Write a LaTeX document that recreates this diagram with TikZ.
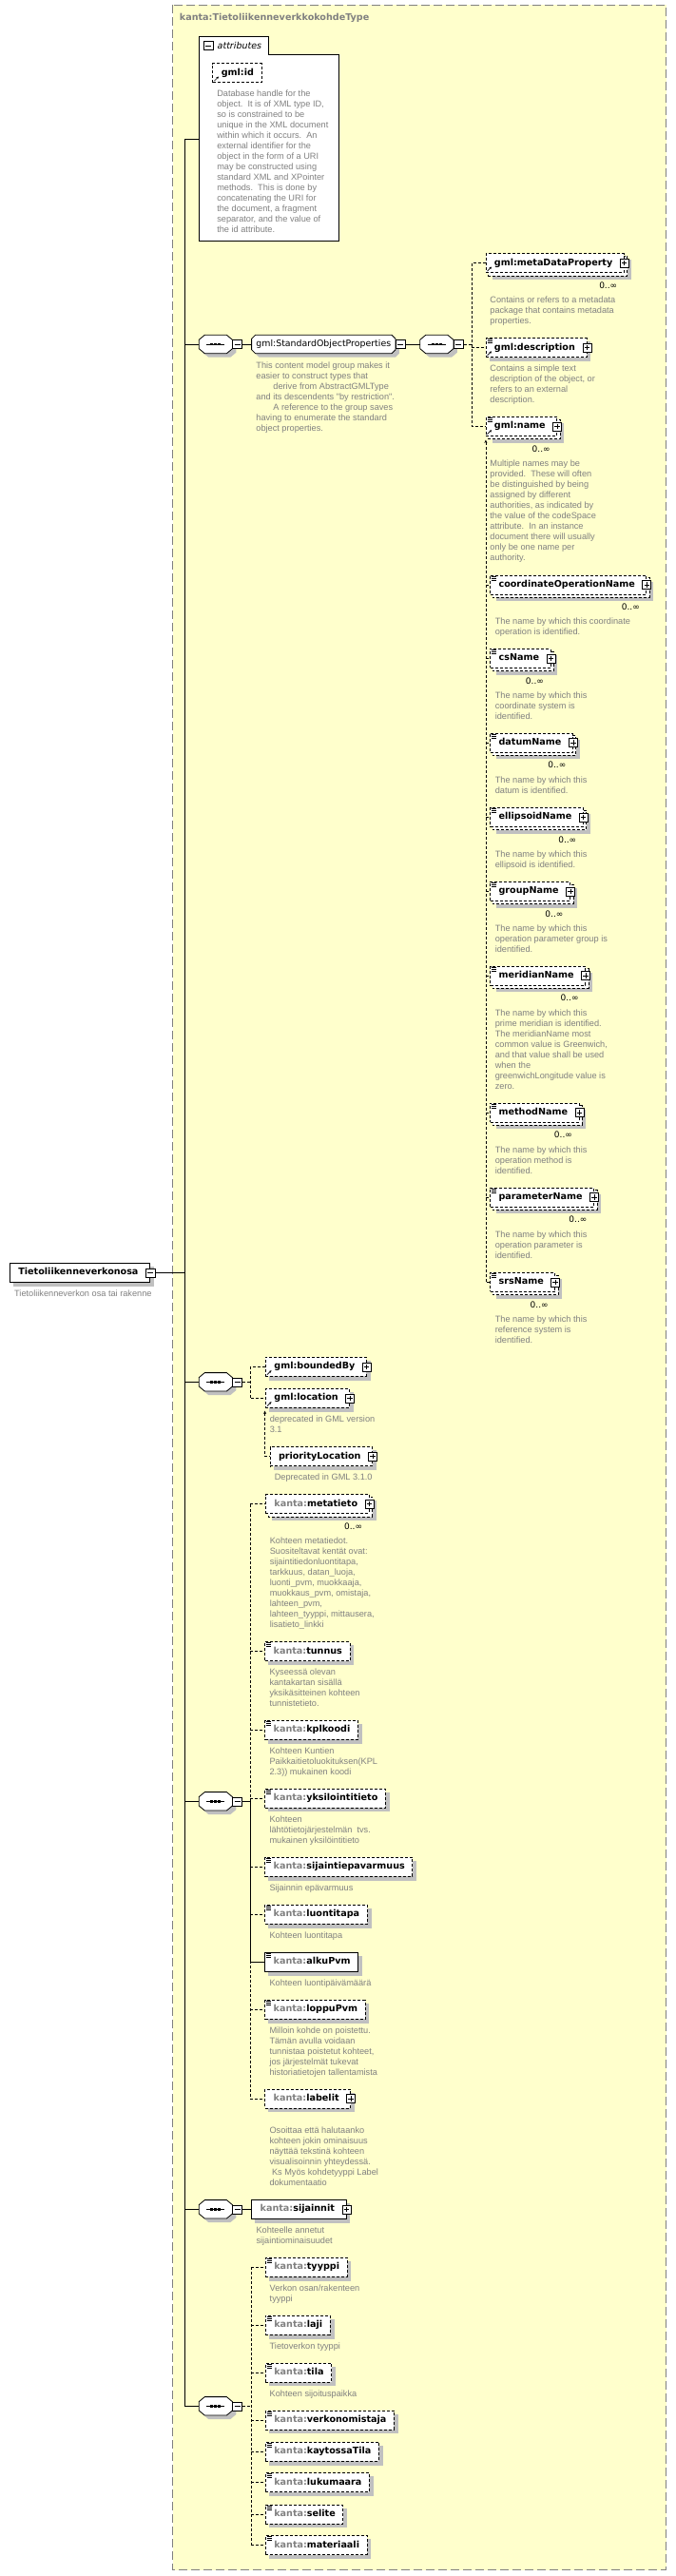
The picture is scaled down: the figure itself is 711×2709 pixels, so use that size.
\documentclass[tikz,border=0pt]{standalone}
\usepackage{fontspec}
\setmainfont{DejaVu Sans}
\newfontfamily\descfont{Liberation Sans}
\usetikzlibrary{arrows.meta}
\pgfdeclarelayer{bg}
\pgfdeclarelayer{mid}
\pgfsetlayers{bg,mid,main}
\definecolor{bgyellow}{RGB}{255,255,204}
\definecolor{shgray}{RGB}{192,192,192}
\definecolor{txtgray}{RGB}{128,128,128}
\newcommand{\kp}{\textcolor{txtgray}{kanta:}}
\newcommand{\Elm}[5][]{\node[el,#1] (#2) at (#3) {\kern9pt#4\kern#5pt};}
\newcommand{\shd}[1]{\begin{pgfonlayer}{mid}\fill[shgray, transform canvas={xshift=4pt,yshift=-4pt}] (#1.north west) rectangle (#1.south east);\end{pgfonlayer}}
\newcommand{\mshd}[1]{\begin{pgfonlayer}{mid}\fill[shgray, transform canvas={xshift=7pt,yshift=-7pt}] (#1.north west) rectangle (#1.south east);\draw[fill=white, line width=0.8pt, dash pattern=on 3pt off 2pt, transform canvas={xshift=3pt,yshift=-3pt}] (#1.north west) rectangle (#1.south east);\end{pgfonlayer}}
\newcommand{\pbx}[1]{\node[pbox] (#1-p) at (#1.east) {};}
\newcommand{\eqi}[1]{\foreach \d in {1.3,3.3,5.3}{\draw[line width=0.6pt] ([xshift=2pt,yshift=-\d pt]#1.north west) -- ([xshift=7pt,yshift=-\d pt]#1.north west);}}
\newcommand{\refa}[1]{\draw[line width=0.7pt,-{Stealth[length=2.6pt,width=2.6pt]}] ([xshift=2pt,yshift=2pt]#1.south west) -- ([xshift=6.5pt,yshift=6.5pt]#1.south west);}
\newcommand{\mlt}[1]{\node[mult] (#1-n) at ([xshift=-17pt,yshift=-23.7pt]#1.east) {0..∞};}
\newcommand{\octo}[3]{([xshift=#2]#1.north west) -- ([xshift=-#2]#1.north east) -- ([yshift=-#3]#1.north east) -- ([yshift=#3]#1.south east) -- ([xshift=-#2]#1.south east) -- ([xshift=#2]#1.south west) -- ([yshift=#3]#1.south west) -- ([yshift=-#3]#1.north west) -- cycle}
\newcommand{\seqb}[3]{%
 \node[inner sep=0pt, minimum width=34.7pt, minimum height=19pt, anchor=west] (#1) at (#2,#3) {};
 \begin{pgfonlayer}{mid}
 \fill[shgray, transform canvas={xshift=4pt,yshift=-4pt}] \octo{#1}{6pt}{5pt};
 \draw[fill=white, line width=0.8pt] \octo{#1}{6pt}{5pt};
 \end{pgfonlayer}
 \draw[line width=0.8pt] ([xshift=8pt]#1.west) -- ([xshift=-8pt]#1.east);
 \foreach \dx in {-4,0,4} {\fill ([xshift=\dx pt]#1.center) +(-1.4pt,-1.2pt) rectangle +(1.4pt,1.2pt);}
 \node[mbox, anchor=west] (#1-m) at (#1.east) {};
}
\begin{document}
\begin{tikzpicture}[x=1pt,y=-1pt,line width=0.8pt,
 el/.style={draw=black, fill=white, anchor=west, minimum height=20pt, inner sep=0pt, text height=7.2pt, text depth=2pt, line width=0.8pt, font=\fontsize{9.6}{11}\selectfont\bfseries},
 opt/.style={dash pattern=on 3pt off 2pt},
 desc/.style={anchor=north west, inner sep=0pt, align=left, text=txtgray, font=\descfont\fontsize{9.2}{11}\selectfont},
 mult/.style={inner sep=0pt, font=\fontsize{9}{11}\selectfont},
 pbox/.style={draw=black, fill=white, solid, line width=0.6pt, minimum width=9pt, minimum height=9pt, inner sep=0pt, path picture={\draw[line width=0.6pt] ([xshift=1.8pt]path picture bounding box.west) -- ([xshift=-1.8pt]path picture bounding box.east); \draw[line width=0.6pt] ([yshift=-1.8pt]path picture bounding box.north) -- ([yshift=1.8pt]path picture bounding box.south);}},
 mbox/.style={draw=black, fill=white, solid, line width=0.6pt, minimum width=10pt, minimum height=9pt, inner sep=0pt, path picture={\draw[line width=0.6pt] ([xshift=1.8pt]path picture bounding box.west) -- ([xshift=-1.8pt]path picture bounding box.east);}},
 conn/.style={line width=0.8pt},
 dconn/.style={line width=0.8pt, dash pattern=on 3pt off 2pt},
]
\useasboundingbox (0,0) rectangle (711,2709);
\begin{pgfonlayer}{bg}
\draw[draw=txtgray, fill=bgyellow, line width=0.8pt, dash pattern=on 9pt off 4pt] (181.5,5.3) rectangle (700.5,2702.7);
\end{pgfonlayer}
\node[anchor=west, inner sep=0pt, text=txtgray, font=\fontsize{9.6}{11}\selectfont\bfseries] (title) at (188.7,19) {kanta:TietoliikenneverkkokohdeType};

% attributes
\node[inner sep=0pt, minimum width=146.5pt, minimum height=196pt, anchor=north west] (attr) at (209.4,57.3) {};
\draw[fill=white, line width=0.8pt] (209.4,38.3) -- (282.5,38.3) -- (282.5,57.3) -- (355.9,57.3) -- (355.9,253.3) -- (209.4,253.3) -- cycle;
\node[mbox, minimum width=9.5pt] (attr-m) at (219.2,48) {};
\node[anchor=west, inner sep=0pt, font=\itshape\fontsize{9.5}{11}\selectfont] (attrlbl) at (228.5,47.6) {attributes};
\Elm[opt]{gid}{223.4,76.7}{gml:id}{8} \shd{gid} \refa{gid}
\node[desc] (gid-d) at (228.1,94.7) {Database handle for the\\object.\ \ It is of XML type ID,\\so is constrained to be\\unique in the XML document\\within which it occurs.\ \ An\\external identifier for the\\object in the form of a URI\\may be constructed using\\standard XML and XPointer\\methods.\ \ This is done by\\concatenating the URI for\\the document, a fragment\\separator, and the value of\\the id attribute.};

% root
\Elm{root}{10,1338.3}{Tietoliikenneverkonosa}{12} \shd{root}
\node[mbox] (root-m) at (root.east) {};
\node[desc] (root-d) at (15,1356.7) {Tietoliikenneverkon osa tai rakenne};

% sequence 1 and group
\seqb{s1}{209.3}{362}
\node[anchor=west, inner xsep=4.6pt, inner ysep=0pt, minimum height=19pt, text height=7pt, text depth=2pt, font=\fontsize{9.4}{11}\selectfont] (grp) at (264.6,362) {gml:StandardObjectProperties};
\begin{pgfonlayer}{mid}
\fill[shgray, transform canvas={xshift=4pt,yshift=-4pt}] \octo{grp}{4pt}{4pt};
\draw[fill=white, line width=0.8pt] \octo{grp}{4pt}{4pt};
\end{pgfonlayer}
\node[mbox, anchor=west] (grp-m) at (grp.east) {};
\node[desc] (grp-d) at (269.2,381) {This content model group makes it\\easier to construct types that\\\hspace*{18pt}derive from AbstractGMLType\\and its descendents "by restriction".\\\hspace*{18pt}A reference to the group saves\\having to enumerate the standard\\object properties.};
\seqb{s2}{441.8}{362}

\Elm[opt]{mdp}{510.5,276.7}{gml:metaDataProperty}{12} \mshd{mdp} \refa{mdp} \pbx{mdp} \mlt{mdp}
\node[desc] (mdp-d) at (515.2,311.7) {Contains or refers to a metadata\\package that contains metadata\\properties.};
\Elm[opt]{gdesc}{510.5,365.5}{gml:description}{12} \shd{gdesc} \eqi{gdesc} \refa{gdesc} \pbx{gdesc}
\node[desc] (gdesc-d) at (515.2,383.7) {Contains a simple text\\description of the object, or\\refers to an external\\description.};
\Elm[opt]{gname}{510.5,448.3}{gml:name}{12} \mshd{gname} \eqi{gname} \refa{gname} \pbx{gname} \mlt{gname}
\node[desc] (gname-d) at (515.2,483.7) {Multiple names may be\\provided.\ \ These will often\\be distinguished by being\\assigned by different\\authorities, as indicated by\\the value of the codeSpace\\attribute.\ \ In an instance\\document there will usually\\only be one name per\\authority.};

\Elm[opt]{con}{515.2,615}{coordinateOperationName}{12} \mshd{con} \eqi{con} \pbx{con} \mlt{con}
\node[desc] (con-d) at (520.6,649.7) {The name by which this coordinate\\operation is identified.};
\Elm[opt]{csn}{515.2,692.3}{csName}{12} \mshd{csn} \eqi{csn} \pbx{csn} \mlt{csn}
\node[desc] (csn-d) at (520.6,727.7) {The name by which this\\coordinate system is\\identified.};
\Elm[opt]{dat}{515.2,781}{datumName}{12} \mshd{dat} \eqi{dat} \pbx{dat} \mlt{dat}
\node[desc] (dat-d) at (520.6,816.7) {The name by which this\\datum is identified.};
\Elm[opt]{ell}{515.2,859.3}{ellipsoidName}{12} \mshd{ell} \eqi{ell} \pbx{ell} \mlt{ell}
\node[desc] (ell-d) at (520.6,894.3) {The name by which this\\ellipsoid is identified.};
\Elm[opt]{grn}{515.2,937.3}{groupName}{12} \mshd{grn} \eqi{grn} \pbx{grn} \mlt{grn}
\node[desc] (grn-d) at (520.6,972.7) {The name by which this\\operation parameter group is\\identified.};
\Elm[opt]{mer}{515.2,1026}{meridianName}{12} \mshd{mer} \eqi{mer} \pbx{mer} \mlt{mer}
\node[desc] (mer-d) at (520.6,1061.3) {The name by which this\\prime meridian is identified.\\The meridianName most\\common value is Greenwich,\\and that value shall be used\\when the\\greenwichLongitude value is\\zero.};
\Elm[opt]{met}{515.2,1170}{methodName}{12} \mshd{met} \eqi{met} \pbx{met} \mlt{met}
\node[desc] (met-d) at (520.6,1205.3) {The name by which this\\operation method is\\identified.};
\Elm[opt]{par}{515.2,1259}{parameterName}{12} \mshd{par} \eqi{par} \pbx{par} \mlt{par}
\node[desc] (par-d) at (520.6,1294.7) {The name by which this\\operation parameter is\\identified.};
\Elm[opt]{srs}{515.2,1348.3}{srsName}{12} \mshd{srs} \eqi{srs} \pbx{srs} \mlt{srs}
\node[desc] (srs-d) at (520.6,1383.7) {The name by which this\\reference system is\\identified.};

% sequence 3
\seqb{s3}{209.3}{1453.3}
\Elm[opt]{bb}{279,1437.3}{gml:boundedBy}{12} \shd{bb} \refa{bb} \pbx{bb}
\Elm[opt]{loc}{279,1470.3}{gml:location}{12} \shd{loc} \refa{loc} \pbx{loc}
\node[desc] (loc-d) at (283.6,1488.7) {deprecated in GML version\\3.1};
\Elm[opt]{prio}{283.6,1531.7}{priorityLocation}{12} \shd{prio} \pbx{prio}
\node[desc] (prio-d) at (288.6,1549.7) {Deprecated in GML 3.1.0};

% sequence 4
\seqb{s4}{209.3}{1894.3}
\Elm[opt]{meta}{279,1581.7}{\kp metatieto}{12} \mshd{meta} \pbx{meta} \mlt{meta}
\node[desc] (meta-d) at (283.6,1616.7) {Kohteen metatiedot.\\Suositeltavat kentät ovat:\\sijaintitiedonluontitapa,\\tarkkuus, datan\_luoja,\\luonti\_pvm, muokkaaja,\\muokkaus\_pvm, omistaja,\\lahteen\_pvm,\\lahteen\_tyyppi, mittausera,\\lisatieto\_linkki};
\Elm[opt]{tun}{278.3,1736.7}{\kp tunnus}{8} \shd{tun} \eqi{tun}
\node[desc] (tun-d) at (283.3,1754.7) {Kyseessä olevan\\kantakartan sisällä\\yksikäsitteinen kohteen\\tunnistetieto.};
\Elm[opt]{kpl}{278.3,1819.3}{\kp kplkoodi}{8} \shd{kpl} \eqi{kpl}
\node[desc] (kpl-d) at (283.3,1837.7) {Kohteen Kuntien\\Paikkaitietoluokituksen(KPL\\2.3)) mukainen koodi};
\Elm[opt]{yks}{278.3,1891}{\kp yksilointitieto}{8} \shd{yks} \eqi{yks}
\node[desc] (yks-d) at (283.3,1909.7) {Kohteen\\lähtötietojärjestelmän\ \ tvs.\\mukainen yksilöintitieto};
\Elm[opt]{sij}{278.3,1963.3}{\kp sijaintiepavarmuus}{8} \shd{sij} \eqi{sij}
\node[desc] (sij-d) at (283.3,1981.7) {Sijainnin epävarmuus};
\Elm[opt]{luo}{278.3,2013.3}{\kp luontitapa}{8} \shd{luo} \eqi{luo}
\node[desc] (luo-d) at (283.3,2031.7) {Kohteen luontitapa};
\Elm{alku}{278.3,2063.3}{\kp alkuPvm}{8} \shd{alku} \eqi{alku}
\node[desc] (alku-d) at (283.3,2081.7) {Kohteen luontipäivämäärä};
\Elm[opt]{lop}{278.3,2113.3}{\kp loppuPvm}{8} \shd{lop} \eqi{lop}
\node[desc] (lop-d) at (283.3,2131.7) {Milloin kohde on poistettu.\\Tämän avulla voidaan\\tunnistaa poistetut kohteet,\\jos järjestelmät tukevat\\historiatietojen tallentamista};
\Elm[opt]{lab}{278.3,2207}{\kp labelit}{12} \shd{lab} \pbx{lab}
\node[desc] (lab-d) at (283.3,2236.7) {Osoittaa että halutaanko\\kohteen jokin ominaisuus\\näyttää tekstinä kohteen\\visualisoinnin yhteydessä.\\\hspace*{2.5pt}Ks Myös kohdetyyppi Label\\dokumentaatio};

% sequence 5
\seqb{s5}{209.3}{2323.3}
\Elm{sijn}{264.3,2323.3}{\kp sijainnit}{12} \shd{sijn} \pbx{sijn}
\node[desc] (sijn-d) at (269.3,2341.7) {Kohteelle annetut\\sijaintiominaisuudet};

% sequence 6
\seqb{s6}{209.3}{2530.3}
\Elm[opt]{tyy}{278.9,2384.3}{\kp tyyppi}{8} \shd{tyy} \eqi{tyy}
\node[desc] (tyy-d) at (283.5,2402.7) {Verkon osan/rakenteen\\tyyppi};
\Elm[opt]{laji}{278.9,2445.3}{\kp laji}{8} \shd{laji} \eqi{laji}
\node[desc] (laji-d) at (283.5,2463.7) {Tietoverkon tyyppi};
\Elm[opt]{tila}{278.9,2495}{\kp tila}{8} \shd{tila} \eqi{tila}
\node[desc] (tila-d) at (283.5,2513.7) {Kohteen sijoituspaikka};
\Elm[opt]{vom}{278.9,2545}{\kp verkonomistaja}{8} \shd{vom} \eqi{vom}
\Elm[opt]{kta}{278.9,2578.3}{\kp kaytossaTila}{8} \shd{kta} \eqi{kta}
\Elm[opt]{luk}{278.9,2610.7}{\kp lukumaara}{8} \shd{luk} \eqi{luk}
\Elm[opt]{sel}{278.9,2644}{\kp selite}{8} \shd{sel} \eqi{sel}
\Elm[opt]{mat}{278.9,2676.7}{\kp materiaali}{8} \shd{mat} \eqi{mat}

% connectors
\coordinate (tt) at (194.4,146.7);
\draw[conn] (attr.west |- tt) -- (tt) -- (tt |- s6.west) -- (s6.west);
\foreach \s in {s1,s3,s4,s5} {\draw[conn] (tt |- \s.west) -- (\s.west);}
\draw[conn] (root-m.east) -- (tt |- root-m.east);
\draw[conn] (s1-m.east) -- (grp.west);
\draw[conn] (grp-m.east) -- (s2.west);
% seq 2 choice
\coordinate (c2) at (495.9,362);
\draw[dconn] (s2-m.east) -- (c2);
\draw[dconn] (mdp.west) -- (c2 |- mdp.west) -- (c2 |- gname.west) -- (gname.west);
\draw[dconn] (c2 |- gdesc.west) -- (gdesc.west);
% substitution group of gml:name
\coordinate (nsub) at (510.9,462.5);
\draw[dconn,{Stealth[length=3.5pt,width=3pt]}-] (nsub) -- (nsub |- srs.west) -- (srs.west);
\foreach \n in {con,csn,dat,ell,grn,mer,met,par} {\draw[dconn] (nsub |- \n.west) -- (\n.west);}
% seq 3
\coordinate (c3) at (263.2,1453.3);
\draw[dconn] (s3-m.east) -- (c3);
\draw[dconn] (bb.west) -- (c3 |- bb.west) -- (c3 |- loc.west) -- (loc.west);
\coordinate (lsub) at (278.6,1483.5);
\draw[dconn,{Stealth[length=3.5pt,width=3pt]}-] (lsub) -- (lsub |- prio.west) -- (prio.west);
% seq 4
\coordinate (c4) at (263.3,1894.3);
\draw[conn] (s4-m.east) -- (c4);
\draw[dconn] (c4 |- meta.west) -- (c4 |- lab.west);
\foreach \n in {meta,tun,kpl,yks,sij,luo,lop,lab} {\draw[dconn] (c4 |- \n.west) -- (\n.west);}
\draw[conn] (c4) -- (c4 |- alku.west) -- (alku.west);
% seq 5
\draw[conn] (s5-m.east) -- (sijn.west);
% seq 6
\coordinate (c6) at (263.9,2530.3);
\draw[dconn] (s6-m.east) -- (c6);
\draw[dconn] (c6 |- tyy.west) -- (c6 |- mat.west);
\foreach \n in {tyy,laji,tila,vom,kta,luk,sel,mat} {\draw[dconn] (c6 |- \n.west) -- (\n.west);}
\end{tikzpicture}
\end{document}
